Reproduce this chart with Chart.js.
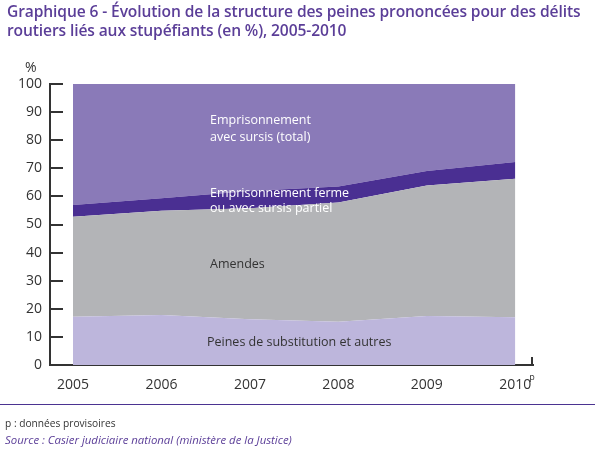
<!DOCTYPE html>
<html lang="fr">
<head>
<meta charset="utf-8">
<script src="https://cdn.jsdelivr.net/npm/chart.js@4/dist/chart.umd.min.js"></script>
<style>
  body { margin: 0; background: #fff; font-family: "Open Sans", sans-serif; }
  #wrap { position: relative; width: 600px; height: 461px; }
  #chart { position: absolute; left: 0; top: 0; }
  .title { position: absolute; left: 7px; top: 2px; color: #5b3e98; font-size: 15.6px; font-weight: 600; line-height: 19px; letter-spacing: -0.12px; white-space: nowrap; }
  .rule { position: absolute; left: 0; top: 404px; width: 595px; height: 1px; background: #4b3391; }
  .note { position: absolute; left: 5px; top: 416px; font-size: 10.2px; color: #333; }
  .src { position: absolute; left: 5px; top: 432px; font-size: 11.4px; color: #5b3e98; font-style: italic; }
</style>
</head>
<body>
<div id="wrap">
  <canvas id="chart" width="600" height="461"></canvas>
  <div class="title">Graphique 6 - Évolution de la structure des peines prononcées pour des délits<br>routiers liés aux stupéfiants (en %), 2005-2010</div>
  <div class="rule"></div>
  <div class="note">p : données provisoires</div>
  <div class="src">Source : Casier judiciaire national (ministère de la Justice)</div>
</div>
<script>
const years = [2005, 2006, 2007, 2008, 2009, 2010];
const substitution = [17.2, 17.8, 16.3, 15.4, 17.4, 17.0];
const amendes = [35.6, 37.1, 39.5, 42.4, 46.5, 49.3];
const fermePartiel = [4.1, 4.4, 6.1, 5.7, 5.1, 5.9];
const sursisTotal = [43.1, 40.7, 38.1, 36.5, 31.0, 27.8];
const yTicks = [0, 10, 20, 30, 40, 50, 60, 70, 80, 90, 100];

const pts = (arr) => arr.map((v, i) => ({ x: years[i], y: v }));

// inward ticks, axis end mark, labels inside the areas
const decorations = {
  id: "decorations",
  afterDraw(chart) {
    const { ctx, chartArea, scales } = chart;
    const x = scales.x, y = scales.y;
    ctx.save();
    ctx.strokeStyle = "#333";
    ctx.lineWidth = 2;
    yTicks.forEach((t) => {
      const py = Math.round(y.getPixelForValue(t));
      ctx.beginPath();
      ctx.moveTo(chartArea.left, py);
      ctx.lineTo(chartArea.left + 13, py);
      ctx.stroke();
    });
    ctx.beginPath();
    ctx.moveTo(chartArea.right - 1, chartArea.bottom);
    ctx.lineTo(chartArea.right - 1, chartArea.bottom - 8);
    ctx.stroke();

    ctx.fillStyle = "#333";
    ctx.font = "14px 'Open Sans'";
    ctx.textBaseline = "middle";
    ctx.textAlign = "left";
    ctx.fillText("%", 25, 68);
    ctx.font = "9px 'Open Sans'";
    ctx.fillText("p", x.getPixelForValue(2010) + 14, 377);

    ctx.font = "12.5px 'Open Sans'";
    ctx.fillStyle = "#fff";
    ctx.fillText("Emprisonnement", 210, 120);
    ctx.fillText("avec sursis (total)", 210, 137);
    ctx.fillText("Emprisonnement ferme", 210, 193);
    ctx.fillText("ou avec sursis partiel", 210, 208);
    ctx.fillStyle = "#333";
    ctx.fillText("Amendes", 210, 264);
    ctx.fillText("Peines de substitution et autres", 207, 342);
    ctx.restore();
  },
};

new Chart(document.getElementById("chart"), {
  type: "line",
  data: {
    datasets: [
      { label: "Peines de substitution et autres", data: pts(substitution), backgroundColor: "#bdb6dc", fill: "origin" },
      { label: "Amendes", data: pts(amendes), backgroundColor: "#b3b4b7", fill: "-1" },
      { label: "Emprisonnement ferme ou avec sursis partiel", data: pts(fermePartiel), backgroundColor: "#4a2f92", fill: "-1" },
      { label: "Emprisonnement avec sursis (total)", data: pts(sursisTotal), backgroundColor: "#8a7ab8", fill: "-1" },
    ],
  },
  options: {
    responsive: false,
    animation: false,
    layout: { padding: { left: 0, right: 67, top: 84, bottom: 0 } },
    elements: { line: { borderWidth: 0, tension: 0 }, point: { radius: 0 } },
    plugins: { legend: { display: false }, tooltip: { enabled: false } },
    scales: {
      x: {
        type: "linear",
        min: 2004.74,
        max: 2010.2,
        afterBuildTicks: (s) => { s.ticks = years.map((v) => ({ value: v })); },
        afterFit: (s) => { s.height = 96; },
        grid: { display: false, drawTicks: false },
        border: { display: true, color: "#333", width: 2 },
        ticks: { color: "#333", font: { family: "Open Sans", size: 14 }, padding: 12, callback: (v) => String(v), maxRotation: 0, autoSkip: false },
      },
      y: {
        stacked: true,
        min: 0,
        max: 100,
        afterBuildTicks: (s) => { s.ticks = yTicks.map((v) => ({ value: v })); },
        afterFit: (s) => { s.width = 50; },
        grid: { display: false, drawTicks: false },
        border: { display: true, color: "#333", width: 2 },
        ticks: { color: "#333", font: { family: "Open Sans", size: 14 }, padding: 8 },
      },
    },
  },
  plugins: [decorations],
});
</script>
</body>
</html>
